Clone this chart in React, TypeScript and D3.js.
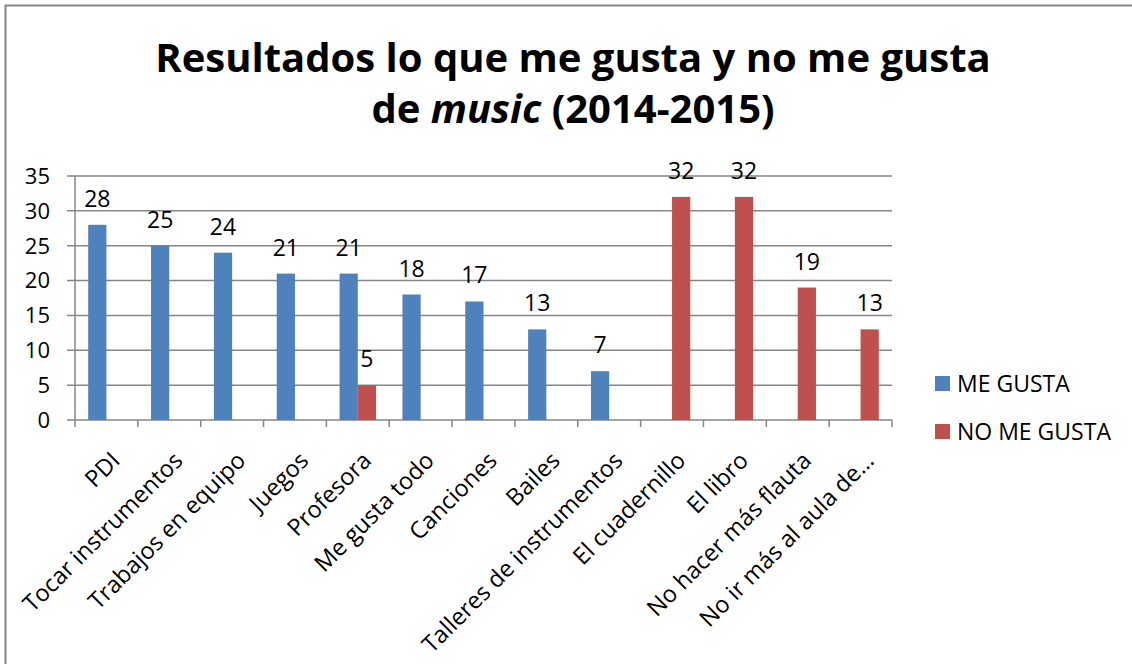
import React from "react";
import * as d3 from "d3";

const categories = [
  "PDI",
  "Tocar instrumentos",
  "Trabajos en equipo",
  "Juegos",
  "Profesora",
  "Me gusta todo",
  "Canciones",
  "Bailes",
  "Talleres de instrumentos",
  "El cuadernillo",
  "El libro",
  "No hacer más flauta",
  "No ir más al aula de…",
];
const meGusta = [28, 25, 24, 21, 21, 18, 17, 13, 7, 0, 0, 0, 0];
const noMeGusta = [0, 0, 0, 0, 5, 0, 0, 0, 0, 32, 32, 19, 13];
const yTicks = [0, 5, 10, 15, 20, 25, 30, 35];
const seriesNames = ["ME GUSTA", "NO ME GUSTA"];
const colors = ["#4F81BD", "#C0504D"];

const FONT = "'Open Sans', 'Noto Sans', sans-serif";
const GRID = "#868686";

export default function App() {
  const W = 1132, H = 664;
  const left = 75, right = 892, top = 176, bottom = 420;
  const x = d3.scaleBand<string>().domain(categories).range([left, right]).paddingInner(0).paddingOuter(0);
  const y = d3.scaleLinear().domain([0, 35]).range([bottom, top]);
  const bw = x.bandwidth() * 0.29;
  const series = [meGusta, noMeGusta];

  return (
    <svg width={W} height={H} style={{ position: "absolute", left: 0, top: 0, background: "#fff" }} fontFamily={FONT}>
      <rect x={5.5} y={5.5} width={1140} height={680} fill="#fff" stroke={GRID} strokeWidth={2} />
      <text x={573} y={72} textAnchor="middle" fontSize={40} fontWeight="bold" fill="#000">
        Resultados lo que me gusta y no me gusta
      </text>
      <text x={573} y={123} textAnchor="middle" fontSize={40} fontWeight="bold" fill="#000">
        de <tspan fontStyle="italic">music</tspan> (2014-2015)
      </text>

      {yTicks.map((t) => (
        <g key={t}>
          <line x1={67} x2={right} y1={y(t)} y2={y(t)} stroke={GRID} strokeWidth={1.5} />
          <text x={50} y={y(t)} dy="0.36em" textAnchor="end" fontSize={22} fill="#000">{t}</text>
        </g>
      ))}
      <line x1={left} x2={left} y1={top} y2={bottom} stroke={GRID} strokeWidth={1.5} />
      {d3.range(categories.length + 1).map((i) => {
        const xx = left + i * x.step();
        return <line key={i} x1={xx} x2={xx} y1={bottom} y2={bottom + 7} stroke={GRID} strokeWidth={1.5} />;
      })}

      {categories.map((c, i) => {
        const cx = (x(c) as number) + x.bandwidth() / 2;
        return (
          <g key={c}>
            {series.map((s, k) => {
              const v = s[i];
              if (!v) return null;
              const bx = k === 0 ? cx - bw : cx;
              return (
                <g key={k}>
                  <rect x={bx} y={y(v)} width={bw} height={bottom - y(v)} fill={colors[k]} />
                  <text x={bx + bw / 2} y={y(v) - 18} textAnchor="middle" fontSize={23} fill="#000">{v}</text>
                </g>
              );
            })}
            <text
              transform={`translate(${cx + 3},${bottom + 30}) rotate(-45)`}
              textAnchor="end"
              dy="0.72em"
              fontSize={23.5}
              fill="#000"
            >
              {c}
            </text>
          </g>
        );
      })}

      {seriesNames.map((n, k) => (
        <g key={n} transform={`translate(935,${376 + k * 48})`}>
          <rect x={0} y={0} width={15} height={15} fill={colors[k]} />
          <text x={22} y={7.5} dy="0.36em" fontSize={23} fill="#000">{n}</text>
        </g>
      ))}
    </svg>
  );
}
